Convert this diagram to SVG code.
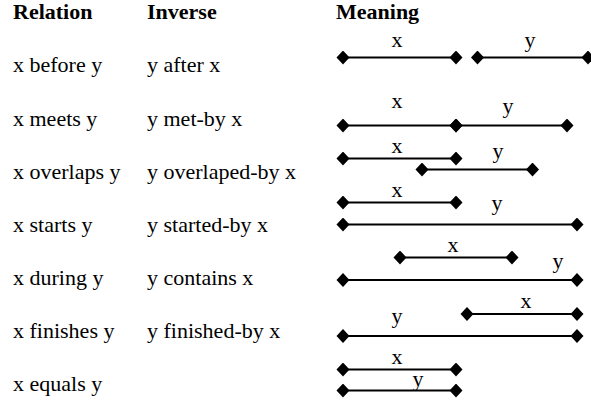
<svg xmlns="http://www.w3.org/2000/svg" width="591" height="402" viewBox="0 0 591 402">
<style>
text{font-family:'Liberation Serif','DejaVu Serif',serif;font-size:22px;fill:#000}
.h{font-weight:bold}
.lbl{text-anchor:middle}
line{stroke:#000;stroke-width:2}
</style>
<defs>
<marker id="d" markerUnits="userSpaceOnUse" markerWidth="14" markerHeight="14" refX="7" refY="7" orient="0" viewBox="0 0 14 14">
<path d="M0.5 7 L7 0 L13.5 7 L7 14 Z" fill="#000"/>
</marker>
</defs>
<g id="headers">
<text class="h" x="13" y="19">Relation</text>
<text class="h" x="147" y="19">Inverse</text>
<text class="h" x="336" y="19">Meaning</text>
</g>
<g id="labels">
<text x="13" y="72">x before y</text><text x="147" y="72">y after x</text>
<text x="13" y="126">x meets y</text><text x="147" y="126">y met-by x</text>
<text x="13" y="179">x overlaps y</text><text x="147" y="179">y overlaped-by x</text>
<text x="13" y="232">x starts y</text><text x="147" y="232">y started-by x</text>
<text x="13" y="285">x during y</text><text x="147" y="285">y contains x</text>
<text x="13" y="338">x finishes y</text><text x="147" y="338">y finished-by x</text>
<text x="13" y="391">x equals y</text>
</g>
<g id="connectors">
<line x1="343" y1="57.5" x2="456" y2="57.5" marker-start="url(#d)" marker-end="url(#d)"/>
<line x1="477.5" y1="57.5" x2="588" y2="57.5" marker-start="url(#d)" marker-end="url(#d)"/>
<line x1="343" y1="125.5" x2="456" y2="125.5" marker-start="url(#d)" marker-end="url(#d)"/>
<line x1="456" y1="125.5" x2="567" y2="125.5" marker-start="url(#d)" marker-end="url(#d)"/>
<line x1="343" y1="158.5" x2="456" y2="158.5" marker-start="url(#d)" marker-end="url(#d)"/>
<line x1="422" y1="169.5" x2="532.5" y2="169.5" marker-start="url(#d)" marker-end="url(#d)"/>
<line x1="343" y1="202.5" x2="456" y2="202.5" marker-start="url(#d)" marker-end="url(#d)"/>
<line x1="343" y1="224.5" x2="577" y2="224.5" marker-start="url(#d)" marker-end="url(#d)"/>
<line x1="400" y1="257.5" x2="512" y2="257.5" marker-start="url(#d)" marker-end="url(#d)"/>
<line x1="343" y1="280" x2="577" y2="280" marker-start="url(#d)" marker-end="url(#d)"/>
<line x1="467" y1="314" x2="577" y2="314" marker-start="url(#d)" marker-end="url(#d)"/>
<line x1="343" y1="336" x2="577" y2="336" marker-start="url(#d)" marker-end="url(#d)"/>
<line x1="343" y1="369.5" x2="456" y2="369.5" marker-start="url(#d)" marker-end="url(#d)"/>
<line x1="343" y1="390.5" x2="456" y2="390.5" marker-start="url(#d)" marker-end="url(#d)"/>
</g>
<g id="interval-labels">
<text class="lbl" x="397" y="47">x</text><text class="lbl" x="530" y="47">y</text>
<text class="lbl" x="397" y="108">x</text><text class="lbl" x="508" y="113">y</text>
<text class="lbl" x="397" y="153">x</text><text class="lbl" x="498" y="158">y</text>
<text class="lbl" x="397" y="197">x</text><text class="lbl" x="497" y="210">y</text>
<text class="lbl" x="453" y="252">x</text><text class="lbl" x="558" y="268">y</text>
<text class="lbl" x="526" y="308">x</text><text class="lbl" x="397" y="323">y</text>
<text class="lbl" x="397" y="364">x</text><text class="lbl" x="418" y="386">y</text>
</g>
</svg>
